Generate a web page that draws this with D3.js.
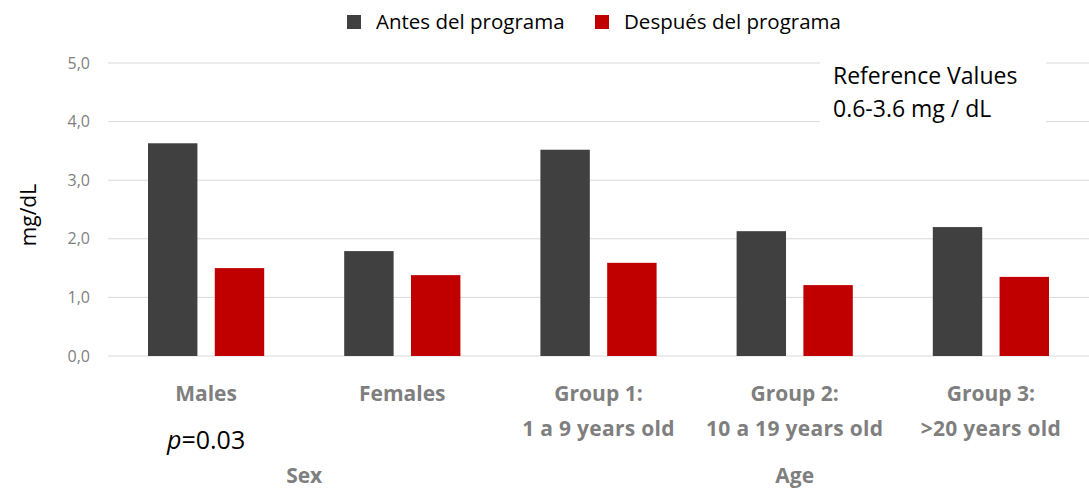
<!DOCTYPE html>
<html>
<head>
<meta charset="utf-8">
<script src="https://cdn.jsdelivr.net/npm/d3@7"></script>
<style>
  body { margin: 0; background: #fff; }
  svg { font-family: "Open Sans", sans-serif; }
</style>
</head>
<body>
<div id="chart"></div>
<script>
// Data
const categories = ["Males", "Females", "Group 1:", "Group 2:", "Group 3:"];
const subLabels = ["", "", "1 a 9 years old", "10 a 19 years old", ">20 years old"];
const seriesNames = ["Antes del programa", "Después del programa"];
const antes = [3.63, 1.79, 3.52, 2.13, 2.20];
const despues = [1.50, 1.38, 1.59, 1.21, 1.35];
const yTicks = [0, 1, 2, 3, 4, 5];
const groupLabels = [{ text: "Sex", from: 0, to: 1 }, { text: "Age", from: 2, to: 4 }];

const colors = ["#404040", "#C00000"];

const W = 1089, H = 490;
const margin = { top: 63, right: 0, bottom: 134, left: 108 };
const width = W - margin.left - margin.right;
const height = H - margin.top - margin.bottom;

const svg = d3.select("#chart").append("svg")
    .attr("width", W)
    .attr("height", H);

const g = svg.append("g")
    .attr("transform", "translate(" + margin.left + "," + margin.top + ")");

// Scales
const x0 = d3.scaleBand()
    .domain(categories)
    .range([0, width]);

const x1 = d3.scaleBand()
    .domain(seriesNames)
    .range([40, x0.bandwidth() - 40])
    .paddingInner(0.26);

const yScale = d3.scaleLinear()
    .domain([0, 5])
    .range([height, 0]);

// Gridlines
g.selectAll(".grid")
    .data(yTicks)
    .enter().append("line")
    .attr("x1", 0)
    .attr("x2", width)
    .attr("y1", d => yScale(d))
    .attr("y2", d => yScale(d))
    .attr("stroke", "#d9d9d9")
    .attr("stroke-width", 1);

// Y axis tick labels
g.selectAll(".ytick")
    .data(yTicks)
    .enter().append("text")
    .attr("x", -18)
    .attr("y", d => yScale(d))
    .attr("dy", "0.35em")
    .attr("text-anchor", "end")
    .attr("fill", "#7f7f7f")
    .style("font-size", "16px")
    .text(d => d3.format(".1f")(d).replace(".", ","));

// Bars
const rows = categories.map((c, i) => ({ cat: c, values: [antes[i], despues[i]] }));

const groups = g.selectAll(".group")
    .data(rows)
    .enter().append("g")
    .attr("transform", d => "translate(" + x0(d.cat) + ",0)");

groups.selectAll("rect")
    .data(d => d.values.map((v, j) => ({ key: seriesNames[j], value: v, j: j })))
    .enter().append("rect")
    .attr("x", d => x1(d.key))
    .attr("y", d => yScale(d.value))
    .attr("width", x1.bandwidth())
    .attr("height", d => height - yScale(d.value))
    .attr("fill", d => colors[d.j]);

// Category labels
g.selectAll(".cat")
    .data(categories)
    .enter().append("text")
    .attr("x", d => x0(d) + x0.bandwidth() / 2)
    .attr("y", height + 45)
    .attr("text-anchor", "middle")
    .attr("fill", "#7f7f7f")
    .style("font-size", "21px")
    .style("font-weight", "bold")
    .text(d => d);

g.selectAll(".sub")
    .data(subLabels)
    .enter().append("text")
    .attr("x", (d, i) => x0(categories[i]) + x0.bandwidth() / 2)
    .attr("y", height + 80)
    .attr("text-anchor", "middle")
    .attr("fill", "#7f7f7f")
    .style("font-size", "21px")
    .style("font-weight", "bold")
    .style("letter-spacing", "0.3px")
    .text(d => d);

// Group labels (sit right at the bottom edge, as in the original)
g.selectAll(".grp")
    .data(groupLabels)
    .enter().append("text")
    .attr("x", d => (x0(categories[d.from]) + x0(categories[d.to]) + x0.bandwidth()) / 2)
    .attr("y", height + 127)
    .attr("text-anchor", "middle")
    .attr("fill", "#7f7f7f")
    .style("font-size", "21px")
    .style("font-weight", "bold")
    .text(d => d.text);

// p value
const pText = g.append("text")
    .attr("x", x0("Males") + x0.bandwidth() / 2)
    .attr("y", height + 93)
    .attr("text-anchor", "middle")
    .attr("fill", "#000")
    .style("font-size", "25px");
pText.append("tspan").style("font-style", "italic").text("p");
pText.append("tspan").text("=0.03");

// Y axis label
svg.append("text")
    .attr("transform", "rotate(-90)")
    .attr("x", -215)
    .attr("y", 36)
    .attr("text-anchor", "middle")
    .attr("fill", "#000")
    .style("font-size", "21px")
    .text("mg/dL");

// Legend
const legendX = [347, 595];
const legend = svg.selectAll(".legend")
    .data(seriesNames)
    .enter().append("g")
    .attr("transform", (d, i) => "translate(" + legendX[i] + ",15)");

legend.append("rect")
    .attr("width", 14)
    .attr("height", 14)
    .attr("fill", (d, i) => colors[i]);

legend.append("text")
    .attr("x", 29)
    .attr("y", 7)
    .attr("dy", "0.35em")
    .attr("fill", "#000")
    .style("font-size", "20.5px")
    .text(d => d);

// Reference values box
svg.append("rect")
    .attr("x", 820)
    .attr("y", 52)
    .attr("width", 226)
    .attr("height", 76)
    .attr("fill", "#fff");

svg.append("text")
    .attr("x", 833)
    .attr("y", 84)
    .attr("fill", "#000")
    .style("font-size", "23px")
    .text("Reference Values");

svg.append("text")
    .attr("x", 833)
    .attr("y", 117)
    .attr("fill", "#000")
    .style("font-size", "23px")
    .text("0.6-3.6 mg / dL");
</script>
</body>
</html>
